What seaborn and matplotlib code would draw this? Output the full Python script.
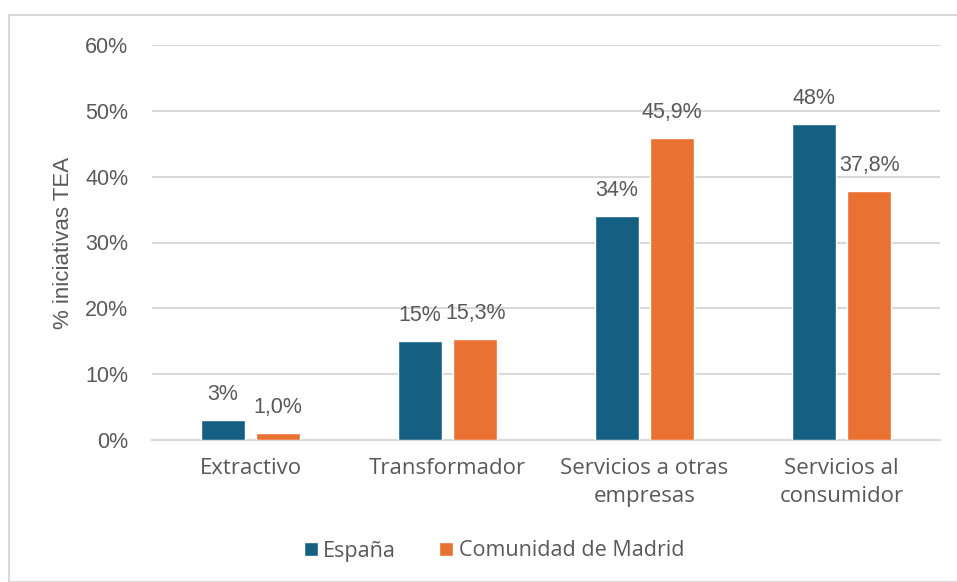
import matplotlib
matplotlib.use("Agg")
import matplotlib.pyplot as plt
import seaborn as sns
import pandas as pd
from matplotlib.patches import Rectangle

categories = ["Extractivo", "Transformador", "Servicios a otras\nempresas", "Servicios al\nconsumidor"]
series_names = ["España", "Comunidad de Madrid"]
espana = [0.03, 0.15, 0.34, 0.48]
madrid = [0.010, 0.153, 0.459, 0.378]
espana_labels = ["3%", "15%", "34%", "48%"]
madrid_labels = ["1,0%", "15,3%", "45,9%", "37,8%"]
yticks = [0, 0.1, 0.2, 0.3, 0.4, 0.5, 0.6]
ytick_labels = ["0%", "10%", "20%", "30%", "40%", "50%", "60%"]

colors = ["#156082", "#E97132"]
gray = "#595959"
grid = "#D9D9D9"
num_font = ["Liberation Sans", "DejaVu Sans"]
txt_font = ["Open Sans", "DejaVu Sans"]

sns.set_theme(style="white")
plt.rcParams["font.family"] = num_font

df = pd.DataFrame({
    "cat": categories * 2,
    "serie": [series_names[0]] * 4 + [series_names[1]] * 4,
    "val": espana + madrid,
})

fig = plt.figure(figsize=(9.57, 5.82), dpi=100)
ax = fig.add_axes([152/957, 1-440/582, (940-152)/957, (440-45)/582])

sns.barplot(data=df, x="cat", y="val", hue="serie", palette=colors,
            width=0.564, gap=0.21, ax=ax, saturation=1, zorder=3)

ax.set_ylim(0, 0.6)
ax.set_xlim(-0.5, 3.5)
ax.set_yticks(yticks)
ax.set_yticklabels(ytick_labels)
ax.grid(axis="y", color=grid, linewidth=1.5, zorder=0)
ax.set_axisbelow(True)
for s in ["top", "right", "left"]:
    ax.spines[s].set_visible(False)
ax.spines["bottom"].set_color(grid)
ax.spines["bottom"].set_linewidth(1.5)
ax.tick_params(axis="both", length=0, labelsize=15.5, labelcolor=gray)
ax.tick_params(axis="y", pad=17)
ax.tick_params(axis="x", pad=13)
for t in ax.get_xticklabels():
    t.set_family(txt_font)
    t.set_fontsize(16)
    t.set_linespacing(1.45)
ax.set_xlabel("")
ax.set_ylabel("% iniciativas TEA", fontsize=16, color=gray, labelpad=8)

for cont, labs in zip(ax.containers, [espana_labels, madrid_labels]):
    ax.bar_label(cont, labels=labs, padding=11, fontsize=15.5, color=gray)

leg = ax.legend(loc="center", bbox_to_anchor=(494/957, 1-551/582), bbox_transform=fig.transFigure,
                ncol=2, frameon=False, prop={"family": txt_font, "size": 15.5},
                handlelength=0.65, handleheight=0.65, handletextpad=0.25, columnspacing=2.0)
for t in leg.get_texts():
    t.set_color(gray)

fig.patches.append(Rectangle((9/957, 0), 1, 1-15/582, transform=fig.transFigure,
                             fill=False, edgecolor=grid, linewidth=1.5))

fig.savefig("out.png", dpi=100)
